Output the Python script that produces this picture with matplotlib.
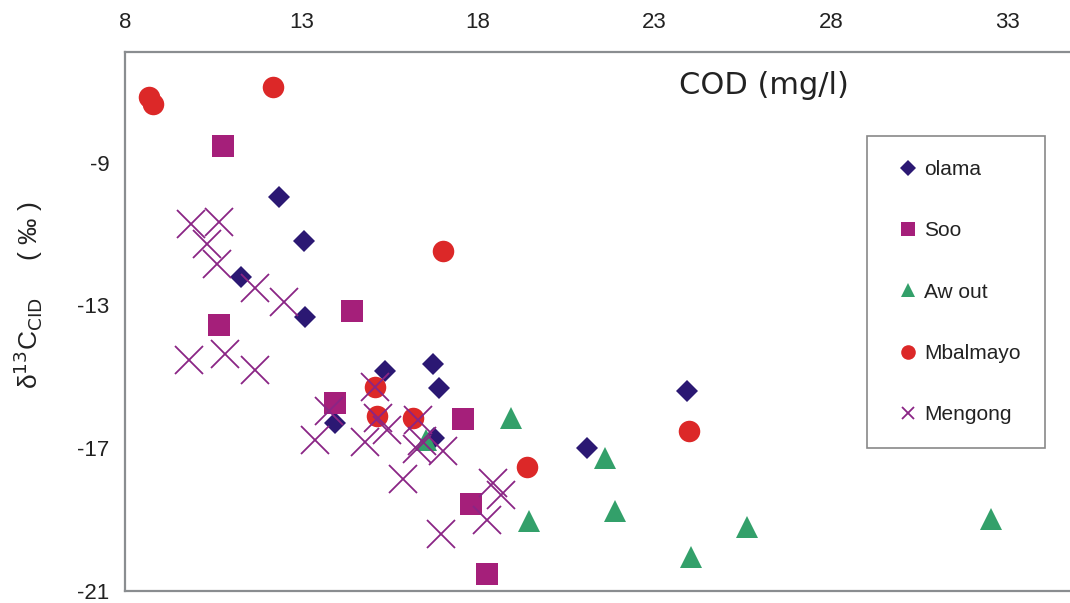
import matplotlib
matplotlib.use("Agg")
import matplotlib.pyplot as plt
from matplotlib.lines import Line2D

plt.rcParams["font.family"] = ["Liberation Sans", "DejaVu Sans"]
plt.rcParams["axes.unicode_minus"] = False

# ---- data (COD mg/l, delta13C CID permil) ----
olama_x = [12.36, 13.07, 11.29, 13.10, 15.37, 16.73, 16.90, 13.95, 16.75, 21.09, 23.92]
olama_y = [-9.95, -11.19, -12.20, -13.32, -14.83, -14.64, -15.31, -16.29, -16.71, -16.99, -15.39]

soo_x = [10.78, 10.66, 14.43, 13.95, 17.58, 17.80, 18.26]
soo_y = [-8.52, -13.54, -13.15, -15.73, -16.18, -18.56, -20.52]

awout_x = [18.93, 16.53, 21.60, 19.44, 21.88, 24.03, 25.62, 32.53]
awout_y = [-16.15, -16.77, -17.27, -19.04, -18.76, -20.05, -19.20, -18.98]

mbal_x = [8.68, 8.79, 12.19, 17.01, 15.08, 15.14, 16.16, 19.39, 23.98]
mbal_y = [-7.15, -7.37, -6.87, -11.47, -15.28, -16.09, -16.15, -17.52, -16.51]

meng_x = [9.87, 10.66, 10.32, 10.61, 11.68, 12.50, 9.81, 10.83, 11.68, 15.08,
          13.78, 13.38, 14.80, 15.17, 15.42, 16.30, 16.27, 16.41, 17.01, 15.88,
          18.42, 18.65, 18.25, 16.95]
meng_y = [-10.71, -10.65, -11.27, -11.83, -12.50, -12.90, -14.52, -14.35, -14.80, -15.28,
          -15.95, -16.77, -16.82, -16.15, -16.49, -16.20, -17.02, -16.79, -17.07, -17.86,
          -17.97, -18.31, -19.01, -19.40]

series_names = ["olama", "Soo", "Aw out", "Mbalmayo", "Mengong"]
x_ticks = [8, 13, 18, 23, 28, 33]
y_ticks = [-21, -17, -13, -9]

c_olama = "#2b1873"
c_soo = "#a51f7a"
c_awout = "#33a06a"
c_mbal = "#dc2828"
c_meng = "#8a2585"

W, H = 1070, 603
fig = plt.figure(figsize=(W / 100, H / 100), dpi=100)
ax_left, ax_top, ax_bottom = 125, 52, 591
ax = fig.add_axes([ax_left / W, (H - ax_bottom) / H, (W - ax_left) / W, (ax_bottom - ax_top) / H])

ax.plot(olama_x, olama_y, ls="none", marker="D", ms=11, mew=0, color=c_olama)
ax.plot(soo_x, soo_y, ls="none", marker="s", ms=15.5, mew=0, color=c_soo)
ax.plot(awout_x, awout_y, ls="none", marker="^", ms=16, mew=0, color=c_awout)
ax.plot(mbal_x, mbal_y, ls="none", marker="o", ms=15.5, mew=0, color=c_mbal)
ax.plot(meng_x, meng_y, ls="none", marker="x", ms=19.5, mew=1.3, color=c_meng)

ax.set_xlim(8, 8 + (W - ax_left) / 35.3)
ax.set_ylim(-21, -5.9)
ax.set_xticks(x_ticks)
ax.set_yticks(y_ticks)
ax.xaxis.tick_top()
ax.tick_params(axis="x", length=0, pad=14, labelsize=16, labelcolor="#222222")
ax.tick_params(axis="y", length=0, pad=11, labelsize=16, labelcolor="#222222")

for s in ["left", "top", "bottom"]:
    ax.spines[s].set_color("#8a8d90")
    ax.spines[s].set_linewidth(1.6)
ax.spines["right"].set_visible(False)

fig.text(764 / W, 1 - 85 / H, "COD (mg/l)", ha="center", va="center",
         fontsize=22, family="DejaVu Sans", color="#222222")

fig.text(28 / W, 1 - 295 / H, "δ$^{13}$C$_{\\rm CID}$     ( ‰ )", rotation=90,
         ha="center", va="center", fontsize=19, color="#222222")

handles = [
    Line2D([], [], ls="none", marker="D", ms=8.5, mew=0, color=c_olama),
    Line2D([], [], ls="none", marker="s", ms=10, mew=0, color=c_soo),
    Line2D([], [], ls="none", marker="^", ms=10.5, mew=0, color=c_awout),
    Line2D([], [], ls="none", marker="o", ms=10.5, mew=0, color=c_mbal),
    Line2D([], [], ls="none", marker="x", ms=9, mew=1.3, color=c_meng),
]
leg = fig.legend(handles, series_names, loc="upper left",
                 bbox_to_anchor=(867 / W, 1 - 142 / H, 178 / W, 0.01), mode="expand",
                 bbox_transform=fig.transFigure, borderaxespad=0, fancybox=False,
                 frameon=True, borderpad=1.15, labelspacing=2.03, handlelength=1.6,
                 handletextpad=0.0, prop={"family": "Liberation Sans", "size": 15})
leg.get_frame().set_edgecolor("#6b6b6b")
leg.get_frame().set_linewidth(1.2)
for t in leg.get_texts():
    t.set_color("#222222")

fig.savefig("out.png", dpi=100)
